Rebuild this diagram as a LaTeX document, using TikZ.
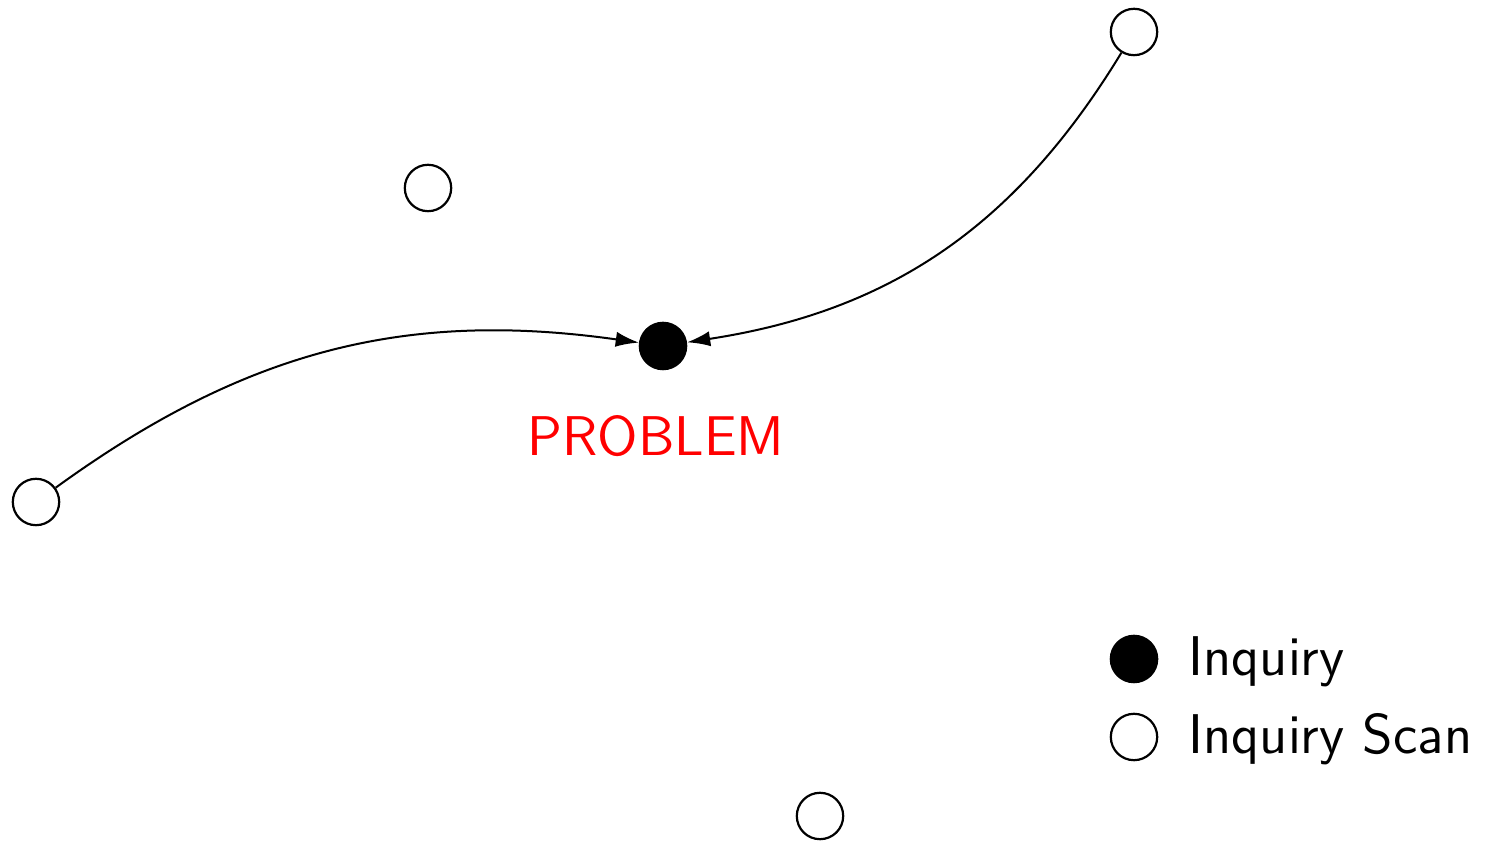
\documentclass[tikz,border=0pt]{standalone}
\usepackage{xcolor}
\usepackage{tikz}
\usetikzlibrary{arrows.meta}
\tikzset{
  scan/.style={circle, draw=black, fill=white, line width=0.55pt,
               minimum size=11.6pt, inner sep=0pt},
  inq/.style={circle, draw=black, fill=black, line width=0.55pt,
              minimum size=11.6pt, inner sep=0pt},
  ar/.style={-{Latex[length=5.8pt,width=3.8pt]}, line width=0.5pt, draw=black},
  lbl/.style={font=\sffamily\fontsize{14}{16.8}\selectfont, inner sep=0pt},
}

\begin{document}
\begin{tikzpicture}[x=0.25pt,y=-0.25pt]
  \useasboundingbox (0,0) rectangle (1486,841);

  % devices
  \node[scan] (topright) at (1134,32)  {};
  \node[scan] (upleft)   at (428,188)  {};
  \node[inq]  (problem)  at (663,346)  {};
  \node[scan] (left)     at (36,502)   {};
  \node[scan] (bottom)   at (820,816)  {};

  \node[lbl, text=red, anchor=base] (ptext) at (656,456) {PROBLEM};

  % scans
  \draw[ar] (left) to[bend left=22] (problem);
  \draw[ar] (topright) to[bend left=25] (problem);

  % legend
  \node[inq]  (keyinq)  at (1134,659) {};
  \node[scan] (keyscan) at (1134,737) {};
  \node[lbl, anchor=base west] (keyinqtext)  at (1188,676) {Inquiry};
  \node[lbl, anchor=base west] (keyscantext) at (1188,754) {Inquiry Scan};
\end{tikzpicture}
\end{document}
